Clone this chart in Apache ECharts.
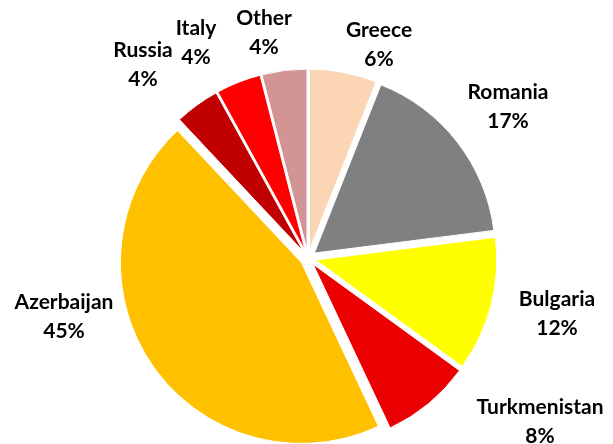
<!DOCTYPE html>
<html>
<head>
<meta charset="utf-8">
<script src="https://cdn.jsdelivr.net/npm/echarts@6/dist/echarts.min.js"></script>
<style>
  html, body { margin: 0; padding: 0; background: #ffffff; }
  #chart { width: 613px; height: 444px; }
</style>
</head>
<body>
<div id="chart"></div>
<script>
// Share of supply by country, percent
const countries = ['Greece', 'Romania', 'Bulgaria', 'Turkmenistan', 'Azerbaijan', 'Russia', 'Italy', 'Other'];
const shares = [6, 17, 12, 8, 45, 4, 4, 4];
const sliceColors = ['#FCD5B5', '#808080', '#FFFF00', '#EA0000', '#FFC000', '#C00000', '#FF0000', '#D29494'];

// Label block centres, offset in pixels from the pie centre
const labelOffsets = [
  [71, -213], [200, -151], [249, 56], [232, 164],
  [-244, 59], [-165, -193], [-112, -215], [-44, -225]
];

const pieCenter = [308, 258];
const pieRadius = 181;
const explode = 8;

const chart = echarts.init(document.getElementById('chart'), null, { renderer: 'canvas' });

const labelFont = 'bold 21px Lato';

chart.setOption({
  animation: false,
  backgroundColor: '#ffffff',
  // category labels ("name" over "share%"), centred on each block
  graphic: countries.map((name, i) => ({
    type: 'text',
    silent: true,
    x: pieCenter[0] + labelOffsets[i][0],
    y: pieCenter[1] + labelOffsets[i][1],
    style: {
      text: name + '\n' + shares[i] + '%',
      font: labelFont,
      lineHeight: 29,
      fill: '#000000',
      align: 'center',
      verticalAlign: 'middle'
    }
  })),
  series: [{
    type: 'pie',
    center: pieCenter,
    radius: pieRadius,
    startAngle: 90,
    clockwise: true,
    selectedMode: 'multiple',
    selectedOffset: explode,
    emphasis: { disabled: true },
    itemStyle: { borderColor: '#ffffff', borderWidth: 1 },
    select: { itemStyle: { borderColor: '#ffffff', borderWidth: 1 } },
    label: { show: false },
    labelLine: { show: false },
    data: countries.map((name, i) => ({
      name: name,
      value: shares[i],
      selected: true,
      itemStyle: { color: sliceColors[i] }
    }))
  }]
});
</script>
</body>
</html>
